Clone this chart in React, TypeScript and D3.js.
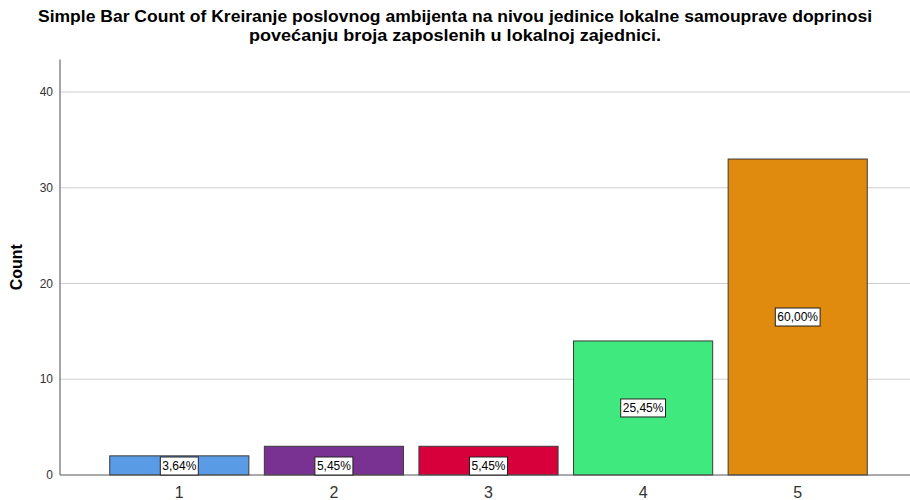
import * as d3 from "d3";

const categories = ["1", "2", "3", "4", "5"];
const counts = [2, 3, 3, 14, 33];
const percentLabels = ["3,64%", "5,45%", "5,45%", "25,45%", "60,00%"];
const barColors = ["#5a9be6", "#7a3292", "#d8003a", "#40e97d", "#e08a0e"];
const yTicks = [0, 10, 20, 30, 40];

const WIDTH = 910;
const HEIGHT = 500;
const LEFT = 60;
const ZERO_Y = 475;
const FONT = "Arial, 'Liberation Sans', sans-serif";

export default function App() {
  const y = d3.scaleLinear().domain([0, 40]).range([ZERO_Y, 92]);
  const x = d3
    .scaleBand<string>()
    .domain(categories)
    .range([102, 875])
    .paddingInner(0.1)
    .paddingOuter(0.05);

  const axisTop = y(43.4);

  return (
    <svg
      width={WIDTH}
      height={HEIGHT}
      style={{ position: "absolute", left: 0, top: 0, background: "#fff" }}
    >
      <text
        x={455}
        y={22}
        textAnchor="middle"
        fontFamily={FONT}
        fontWeight="bold"
        fontSize={17}
        textLength={834}
        lengthAdjust="spacingAndGlyphs"
      >
        Simple Bar Count of Kreiranje poslovnog ambijenta na nivou jedinice lokalne samouprave doprinosi
      </text>
      <text
        x={455}
        y={41}
        textAnchor="middle"
        fontFamily={FONT}
        fontWeight="bold"
        fontSize={17}
        textLength={412}
        lengthAdjust="spacingAndGlyphs"
      >
        povećanju broja zaposlenih u lokalnoj zajednici.
      </text>

      {/* gridlines */}
      {yTicks.filter((t) => t > 0).map((t) => (
        <line key={t} x1={LEFT} x2={WIDTH} y1={y(t)} y2={y(t)} stroke="#cfcfcf" strokeWidth={1} />
      ))}

      {/* y tick labels */}
      {yTicks.map((t) => (
        <text
          key={t}
          x={53}
          y={y(t)}
          dy="0.35em"
          textAnchor="end"
          fontFamily={FONT}
          fontSize={12}
          fill="#333"
        >
          {t}
        </text>
      ))}

      <text
        transform={`translate(22, ${(ZERO_Y + axisTop) / 2}) rotate(-90)`}
        textAnchor="middle"
        fontFamily={FONT}
        fontWeight="bold"
        fontSize={16}
      >
        Count
      </text>

      {/* bars */}
      {counts.map((c, i) => {
        const bx = x(categories[i])!;
        const bw = x.bandwidth();
        const by = y(c);
        return (
          <rect
            key={i}
            x={bx}
            y={by}
            width={bw}
            height={ZERO_Y - by}
            fill={barColors[i]}
            stroke="#3a3a3a"
            strokeWidth={1}
          />
        );
      })}

      {/* axes */}
      <line x1={LEFT} x2={LEFT} y1={axisTop} y2={ZERO_Y} stroke="#888" strokeWidth={1.5} />
      <line x1={LEFT} x2={WIDTH} y1={ZERO_Y} y2={ZERO_Y} stroke="#555" strokeWidth={1} />

      {/* percent labels */}
      {counts.map((c, i) => {
        const cx = x(categories[i])! + x.bandwidth() / 2;
        const cy = c < 5 ? Math.max((y(c) + ZERO_Y) / 2, 466) : (y(c) + ZERO_Y) / 2;
        const label = percentLabels[i];
        const w = label.length * 6.8 + 4;
        return (
          <g key={i}>
            <rect
              x={cx - w / 2}
              y={cy - 9}
              width={w}
              height={18}
              fill="#fff"
              stroke="#222"
              strokeWidth={1}
            />
            <text
              x={cx}
              y={cy}
              dy="0.36em"
              textAnchor="middle"
              fontFamily={FONT}
              fontSize={12}
              fill="#000"
            >
              {label}
            </text>
          </g>
        );
      })}

      {/* x tick labels */}
      {categories.map((c) => (
        <text
          key={c}
          x={x(c)! + x.bandwidth() / 2}
          y={498}
          textAnchor="middle"
          fontFamily={FONT}
          fontSize={16}
          fill="#333"
        >
          {c}
        </text>
      ))}
    </svg>
  );
}
